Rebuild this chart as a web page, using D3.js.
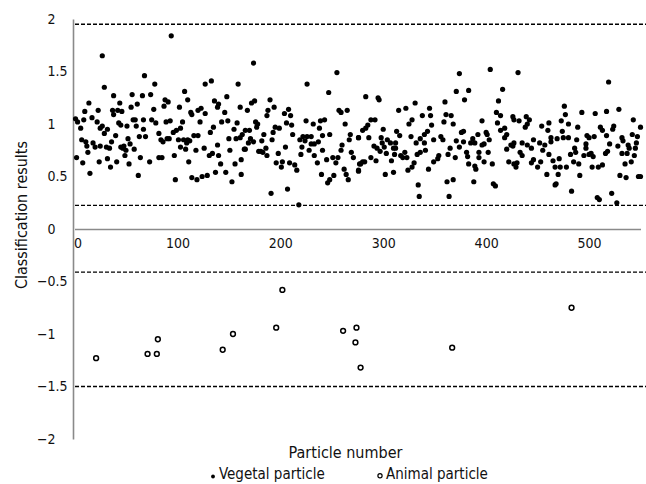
<!DOCTYPE html>
<html><head><meta charset="utf-8">
<script src="https://cdn.jsdelivr.net/npm/d3@7"></script>
<style>body{margin:0;background:#fff}svg{display:block;background:#fff}</style>
</head><body><svg id="c" width="646" height="484"></svg>
<script>
const xTicks = [0, 100, 200, 300, 400, 500];
const yTicks = [2, 1.5, 1, 0.5, 0, -0.5, -1, -1.5, -2];
const thresholds = [1.95, 0.225, -0.41, -1.5];
const xTitle = "Particle number";
const yTitle = "Classification results";
const legendLabels = ["Vegetal particle", "Animal particle"];

// [particle number, classification result]
const vegetal = [
[1,1.05],[3,1.02],[6,0.96],[9,1.04],[10,1.12],[14,1.20],[17,1.06],[23,1.13],[22,1.02],[25,0.96],[27,0.98],[29,0.91],[32,0.95],[27,1.65],[29,1.35],[38,1.27],[37,1.13],[38,1.09],[42,1.13],[44,1.20],[46,1.12],[43,1.01],[45,0.99],[51,0.98],[55,1.16],[56,1.28],[57,1.04],[59,1.04],[60,0.98],[61,1.19],[66,1.27],[68,1.46],[67,1.04],[67,0.95],[74,1.28],[78,1.38],[75,1.04],[77,1.14],[79,1.01],[87,1.17],[88,1.23],[91,1.21],[89,1.02],[93,1.03],[82,0.91],[84,0.85],[86,0.83],[90,0.86],[92,0.86],
[7,0.85],[11,0.83],[12,0.79],[13,0.73],[2,0.68],[8,0.63],[15,0.53],[18,0.82],[20,0.78],[24,0.64],[25,0.79],[31,0.78],[32,0.67],[34,0.77],[35,0.59],[36,0.83],[40,0.89],[41,0.64],[45,0.78],[47,0.77],[48,0.79],[49,0.70],[50,0.75],[52,0.86],[53,0.62],[54,0.81],[58,0.76],[63,0.88],[62,0.51],[64,0.68],[69,0.88],[73,0.64],[82,0.68],[85,0.68],
[94,1.84],[174,1.58],[133,1.41],[127,1.38],[159,1.38],[107,1.31],[110,1.23],[148,1.26],[136,1.22],[140,1.19],[139,1.16],[102,1.16],[120,1.13],[123,1.15],[127,1.10],[113,1.11],[114,1.09],[146,1.11],[161,1.16],[168,1.13],[172,1.20],[175,1.22],[105,1.02],[122,1.02],[143,1.02],[149,1.03],[158,1.01],[176,1.02],[178,1.00],[177,0.97],[103,0.96],[96,0.92],[99,0.94],[135,0.97],[132,0.92],[155,0.95],[166,0.94],[170,0.94],[163,0.90],[161,0.87],[157,0.86],[169,0.82],[171,0.86],[174,0.83],[182,0.84],[184,0.90],[101,0.85],[106,0.85],[110,0.85],[109,0.82],[112,0.84],[116,0.89],[120,0.89],[150,0.86],[103,0.78],[108,0.76],[97,0.70],[118,0.75],[126,0.77],[131,0.70],[134,0.72],[139,0.80],[140,0.70],[151,0.75],[165,0.76],[166,0.76],[162,0.66],[156,0.62],[179,0.74],[181,0.74],[183,0.73],[111,0.64],[142,0.62],[98,0.47],[114,0.49],[119,0.47],[124,0.50],[129,0.51],[137,0.54],[147,0.54],[153,0.45],[162,0.52],
[255,1.49],[226,1.38],[247,1.30],[190,1.23],[194,1.16],[188,1.13],[187,1.08],[204,1.10],[208,1.14],[210,1.08],[206,1.01],[211,0.99],[257,1.13],[259,1.11],[265,1.13],[263,1.00],[225,1.03],[232,1.00],[239,1.03],[243,1.04],[238,0.96],[195,0.97],[199,0.96],[193,0.92],[212,0.90],[248,0.90],[268,0.90],[276,0.87],[192,0.85],[219,0.85],[222,0.88],[226,0.88],[230,0.88],[224,0.84],[241,0.89],[267,0.85],[186,0.77],[205,0.78],[221,0.78],[233,0.81],[237,0.83],[230,0.81],[260,0.80],[241,0.75],[228,0.75],[259,0.75],[187,0.70],[198,0.72],[220,0.71],[233,0.70],[256,0.68],[269,0.73],[271,0.68],[196,0.63],[202,0.64],[209,0.63],[214,0.61],[201,0.59],[216,0.56],[236,0.63],[245,0.66],[251,0.68],[254,0.63],[262,0.57],[264,0.52],[266,0.47],[276,0.56],[277,0.62],[240,0.52],[252,0.51],[248,0.47],[246,0.44],[191,0.34],[207,0.38],[218,0.23],
[283,1.26],[295,1.25],[296,1.23],[315,1.13],[322,1.15],[331,1.20],[345,1.15],[360,1.21],[371,1.31],[338,1.08],[346,1.08],[361,1.09],[366,1.08],[288,1.04],[292,1.04],[285,0.99],[283,0.96],[280,0.94],[328,1.04],[325,1.00],[347,0.99],[359,1.02],[368,1.00],[300,0.95],[313,0.93],[343,0.93],[276,0.87],[286,0.87],[298,0.87],[316,0.89],[327,0.88],[336,0.86],[340,0.90],[349,0.85],[356,0.88],[358,0.85],[299,0.82],[304,0.85],[307,0.82],[312,0.82],[332,0.82],[340,0.82],[371,0.84],[291,0.79],[294,0.77],[297,0.74],[301,0.78],[310,0.77],[312,0.77],[341,0.75],[365,0.77],[303,0.72],[311,0.71],[317,0.70],[319,0.68],[321,0.73],[323,0.68],[333,0.71],[336,0.73],[354,0.70],[363,0.71],[370,0.68],[288,0.68],[293,0.65],[308,0.65],[349,0.64],[353,0.67],[280,0.64],[278,0.62],[282,0.64],[276,0.55],[330,0.63],[328,0.59],[324,0.56],[344,0.57],[302,0.52],[310,0.54],[334,0.42],[335,0.31],[362,0.45],[364,0.31],[368,0.47],
[404,1.52],[431,1.49],[374,1.48],[416,1.33],[383,1.32],[379,1.23],[412,1.22],[410,1.11],[414,1.08],[426,1.07],[427,1.04],[432,1.03],[439,1.07],[442,1.04],[440,1.00],[438,0.97],[454,0.98],[461,1.01],[460,0.94],[396,1.03],[411,1.01],[378,0.93],[376,0.92],[400,0.92],[401,0.90],[418,0.96],[414,0.94],[420,0.90],[418,0.87],[392,0.90],[378,0.83],[385,0.82],[387,0.86],[389,0.82],[398,0.81],[403,0.85],[424,0.80],[427,0.82],[435,0.82],[440,0.80],[446,0.85],[452,0.82],[457,0.80],[374,0.78],[396,0.80],[420,0.76],[426,0.79],[444,0.77],[455,0.75],[461,0.71],[381,0.73],[393,0.73],[402,0.73],[433,0.73],[435,0.70],[382,0.69],[393,0.68],[398,0.64],[406,0.62],[422,0.64],[427,0.62],[430,0.63],[429,0.59],[444,0.63],[446,0.66],[453,0.64],[450,0.59],[383,0.62],[389,0.60],[390,0.57],[388,0.45],[407,0.43],[409,0.41],[459,0.52],
[519,1.40],[476,1.17],[477,1.09],[493,1.11],[506,1.10],[517,1.12],[529,1.14],[473,1.03],[480,1.00],[489,0.97],[511,0.97],[513,0.94],[524,0.98],[523,0.95],[543,1.04],[550,0.97],[474,0.93],[463,0.87],[469,0.86],[475,0.87],[480,0.87],[488,0.85],[498,0.89],[500,0.87],[505,0.88],[517,0.89],[532,0.87],[533,0.84],[542,0.90],[547,0.88],[463,0.83],[497,0.81],[520,0.81],[528,0.79],[538,0.80],[546,0.82],[497,0.77],[486,0.77],[539,0.77],[545,0.77],[482,0.71],[487,0.73],[495,0.70],[500,0.71],[502,0.72],[504,0.69],[516,0.72],[518,0.74],[532,0.72],[537,0.72],[544,0.70],[465,0.65],[471,0.67],[485,0.64],[490,0.62],[467,0.59],[472,0.59],[478,0.59],[503,0.59],[509,0.59],[513,0.61],[535,0.62],[541,0.64],[470,0.52],[491,0.51],[530,0.51],[536,0.49],[548,0.50],[550,0.50],[467,0.42],[468,0.43],[483,0.36],[508,0.30],[510,0.28],[522,0.34],[527,0.25]
];

const animal = [
[21,-1.23],[71,-1.19],[80,-1.19],[81,-1.05],[144,-1.15],[154,-1.00],[196,-0.94],[202,-0.58],[261,-0.97],[274,-0.94],[273,-1.08],[278,-1.32],[367,-1.13],[483,-0.75]
];

const FONT = '"DejaVu Sans Condensed","Liberation Sans Narrow",sans-serif';
const AXIS_GRAY = "#8a8a8a";

const svg = d3.select("#c");
const x = d3.scaleLinear().domain([0, 550]).range([74.5, 640.5]);
const y = d3.scaleLinear().domain([-2, 2]).range([439, 19]);
const fmt = d => (d < 0 ? "\u2212" : "") + String(Math.abs(d));

// threshold dashed lines
svg.append("g").selectAll("line").data(thresholds).join("line")
  .attr("x1", 75).attr("x2", 646)
  .attr("y1", d => y(d)).attr("y2", d => y(d))
  .attr("stroke", "#000").attr("stroke-width", 1.3)
  .attr("stroke-dasharray", "4,2");

// y axis
const gy = svg.append("g").attr("transform", "translate(73,0)")
  .call(d3.axisLeft(y).tickValues(yTicks).tickSize(0).tickFormat(fmt));
gy.select(".domain").attr("stroke", AXIS_GRAY).attr("stroke-width", 1.6);
gy.selectAll("text").attr("font-family", FONT).attr("font-size", 14).attr("fill", "#111")
  .each(function(d) {
    const t = d3.select(this);
    const full = t.text();
    const intPart = full.split(".")[0];
    t.text(intPart);
    const w = this.getComputedTextLength();
    t.text(full).attr("text-anchor", "start").attr("x", -17.5 - w);
  });

// x axis
const gx = svg.append("g").attr("transform", `translate(0,${y(0)})`)
  .call(d3.axisBottom(x).tickValues(xTicks).tickSize(0).tickPadding(9).tickFormat(fmt));
gx.select(".domain").attr("stroke", AXIS_GRAY).attr("stroke-width", 1.6);
gx.selectAll("text").attr("font-family", FONT).attr("font-size", 14).attr("fill", "#111")
  .attr("dx", d => d === 0 ? 3 : 0);

// points
svg.append("g").selectAll("circle").data(vegetal).join("circle")
  .attr("cx", d => x(d[0])).attr("cy", d => y(d[1])).attr("r", 2.6).attr("fill", "#000");
svg.append("g").selectAll("circle").data(animal).join("circle")
  .attr("cx", d => x(d[0])).attr("cy", d => y(d[1])).attr("r", 2.4)
  .attr("fill", "#fff").attr("stroke", "#000").attr("stroke-width", 1.5);

// titles
svg.append("text").attr("x", 345.5).attr("y", 458).attr("text-anchor", "middle")
  .attr("font-family", FONT).attr("font-size", 16).attr("fill", "#111")
  .text(xTitle);
svg.append("text").attr("transform", "translate(27,215) rotate(-90)").attr("text-anchor", "middle")
  .attr("font-family", FONT).attr("font-size", 16).attr("fill", "#111")
  .text(yTitle);

// legend
const lg = svg.append("g");
lg.append("circle").attr("cx", 213).attr("cy", 476.5).attr("r", 1.9).attr("fill", "#000");
lg.append("text").attr("x", 219).attr("y", 479).attr("font-family", FONT).attr("font-size", 15)
  .attr("fill", "#111").text(legendLabels[0]);
lg.append("circle").attr("cx", 380).attr("cy", 475.7).attr("r", 2.1)
  .attr("fill", "#fff").attr("stroke", "#000").attr("stroke-width", 1.2);
lg.append("text").attr("x", 386).attr("y", 479).attr("font-family", FONT).attr("font-size", 15)
  .attr("fill", "#111").text(legendLabels[1]);
</script>
</body></html>
